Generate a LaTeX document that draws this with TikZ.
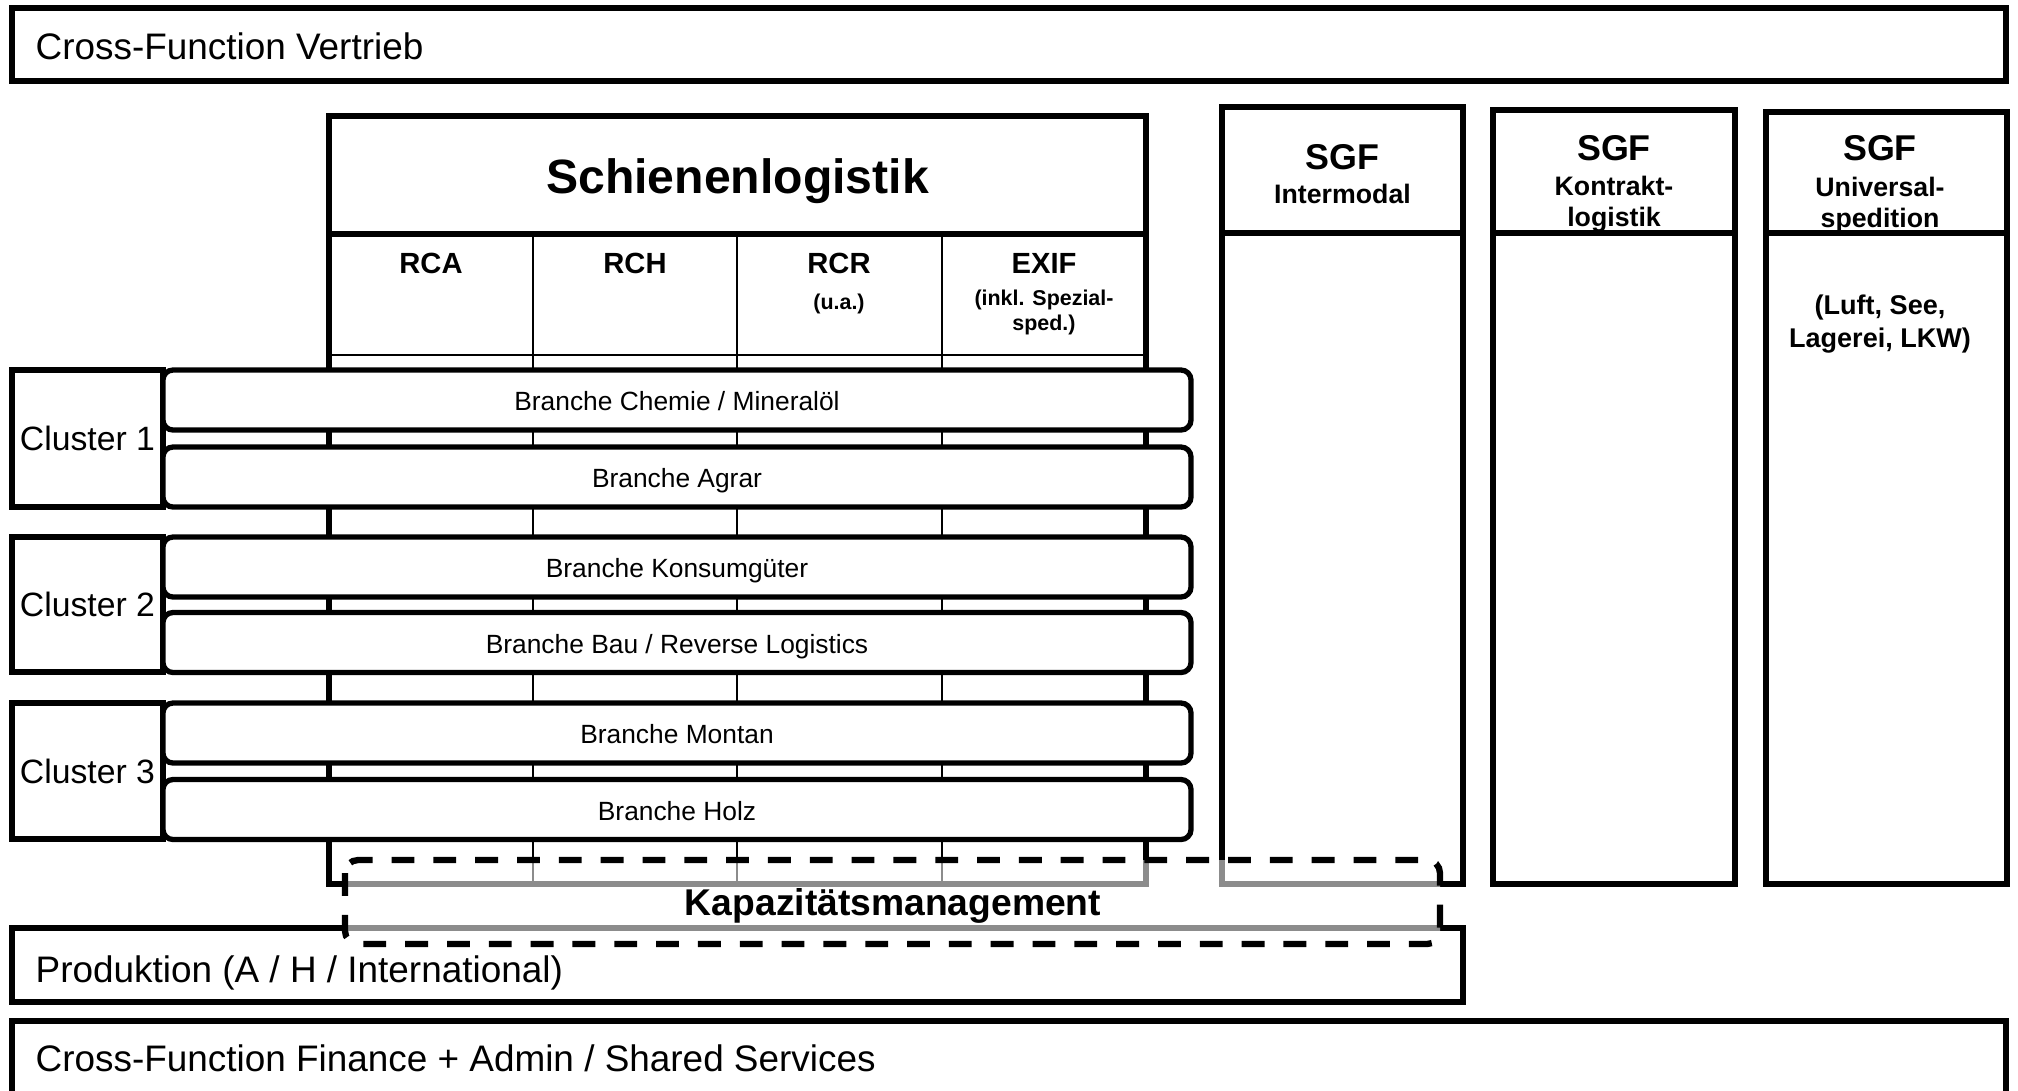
\documentclass[tikz,border=0pt]{standalone}
\usepackage{fontspec}
\setmainfont{Liberation Sans}
\usetikzlibrary{positioning}
\tikzset{
    frame/.style={draw, line width=1.7pt, fill=white, inner sep=0pt},
    heavyline/.style={line width=1.7pt},
    thinline/.style={line width=0.6pt},
    cluster/.style={frame, minimum width=1.51cm, font=\fontsize{9.6}{11}\selectfont},
    branche/.style={draw, line width=1.5pt, fill=white, rounded corners=0.1cm, minimum width=10.28cm,
                    minimum height=0.6cm, inner sep=0pt, text height=6pt, text depth=0pt,
                    font=\fontsize{7.5}{9}\selectfont},
    bartext/.style={anchor=west, inner sep=0pt, font=\fontsize{10.5}{12}\selectfont},
    title/.style={font=\bfseries\fontsize{13.7}{16}\selectfont},
    colname/.style={font=\bfseries\fontsize{8.3}{10}\selectfont},
    colnote/.style={align=center, font=\bfseries\fontsize{6.1}{7.1}\selectfont},
    sgfname/.style={font=\bfseries\fontsize{10.2}{12}\selectfont},
    sgfsub/.style={align=center, font=\bfseries\fontsize{7.6}{8.8}\selectfont},
    sgfnote/.style={align=center, font=\bfseries\fontsize{7.7}{9.4}\selectfont},
    capfill/.style={fill=white, fill opacity=0.55},
    capbox/.style={draw, line width=1.8pt, dash pattern=on 6.5pt off 5.4pt, rounded corners=0.13cm},
    captext/.style={font=\bfseries\fontsize{10.6}{12}\selectfont},
}

\begin{document}
\begin{tikzpicture}[x=1cm, y=-1cm]
    \useasboundingbox (0,0) rectangle (20.18,10.90);

    % Cross-Function bars
    \node[frame, minimum width=19.94cm, minimum height=0.73cm] (vertrieb) at (10.09,0.445) {};
    \node[bartext] (vertriebtext) at (0.35,0.46) {Cross-Function Vertrieb};
    \node[frame, minimum width=19.94cm, minimum height=1.09cm] (finance) at (10.09,10.755) {};
    \node[bartext] (financetext) at (0.35,10.58) {Cross-Function Finance + Admin / Shared Services};

    % Schienenlogistik
    \node[frame, minimum width=8.17cm, minimum height=1.18cm] (schiene) at (7.375,1.75) {};
    \node[title] (schienetext) at (7.375,1.81) {Schienenlogistik};
    \draw[heavyline] (3.29,2.34) -- (3.29,8.84) -- (11.46,8.84) -- (11.46,2.34);
    \draw[thinline] (3.29,3.55) -- (11.46,3.55);
    \draw[thinline] (5.33,2.34) -- (5.33,8.84);
    \draw[thinline] (7.37,2.34) -- (7.37,8.84);
    \draw[thinline] (9.42,2.34) -- (9.42,8.84);

    % Spalten
    \node[colname] (rca) at (4.31,2.63) {RCA};
    \node[colname] (rch) at (6.35,2.63) {RCH};
    \node[colname] (rcr) at (8.39,2.63) {RCR};
    \node[colnote] (rcrnote) at (8.39,3.04) {(u.a.)};
    \node[colname] (exif) at (10.44,2.63) {EXIF};
    \node[colnote] (exifnote) at (10.44,3.12) {(inkl. Spezial-\\sped.)};

    % SGF
    \node[frame, minimum width=2.41cm, minimum height=7.77cm] (inter) at (13.425,4.955) {};
    \draw[heavyline] (12.22,2.33) -- (14.63,2.33);
    \node[sgfname] (intersgf) at (13.425,1.57) {SGF};
    \node[sgfsub] (intername) at (13.425,1.94) {Intermodal};

    \node[frame, minimum width=2.42cm, minimum height=7.74cm] (kontrakt) at (16.14,4.97) {};
    \draw[heavyline] (14.93,2.33) -- (17.35,2.33);
    \node[sgfname] (kontraktsgf) at (16.14,1.48) {SGF};
    \node[sgfsub] (kontraktname) at (16.14,2.04) {Kontrakt-\\logistik};

    \node[frame, minimum width=2.41cm, minimum height=7.72cm] (universal) at (18.865,4.98) {};
    \draw[heavyline] (17.66,2.33) -- (20.07,2.33);
    \node[sgfname] (universalsgf) at (18.80,1.48) {SGF};
    \node[sgfsub] (universalname) at (18.80,2.05) {Universal-\\spedition};
    \node[sgfnote] (universalnote) at (18.80,3.24) {(Luft, See,\\Lagerei, LKW)};

    % Cluster
    \node[cluster, minimum height=1.37cm] (c1) at (0.875,4.385) {Cluster 1};
    \node[cluster, minimum height=1.35cm] (c2) at (0.875,6.045) {Cluster 2};
    \node[cluster, minimum height=1.36cm] (c3) at (0.875,7.71) {Cluster 3};

    % Branchen
    \node[branche] (chemie) at (6.77,4.0) {Branche Chemie / Mineralöl};
    \node[branche] (agrar) at (6.77,4.77) {Branche Agrar};
    \node[branche] (konsum) at (6.77,5.67) {Branche Konsumgüter};
    \node[branche] (bau) at (6.77,6.425) {Branche Bau / Reverse Logistics};
    \node[branche] (montan) at (6.77,7.33) {Branche Montan};
    \node[branche] (holz) at (6.77,8.095) {Branche Holz};

    % Produktion
    \node[frame, minimum width=14.51cm, minimum height=0.74cm] (prod) at (7.375,9.65) {};
    \node[bartext] (prodtext) at (0.35,9.73) {Produktion (A / H / International)};

    % Kapazitaetsmanagement
    \fill[capfill, rounded corners=0.13cm] (3.45,8.60) rectangle (14.40,9.44);
    \draw[capbox] (3.45,8.60) rectangle (14.40,9.44);
    \node[captext] (cap) at (8.93,9.06) {Kapazitätsmanagement};
\end{tikzpicture}
\end{document}
